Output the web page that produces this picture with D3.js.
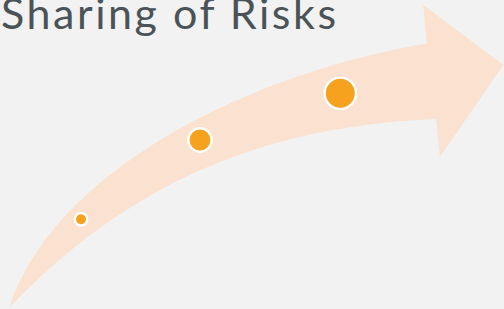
<!DOCTYPE html>
<html>
<head>
<meta charset="utf-8">
<script src="https://cdn.jsdelivr.net/npm/d3@7"></script>
<style>
  html, body { margin: 0; padding: 0; background: #f2f2f2; overflow: hidden; }
  svg { display: block; }
</style>
</head>
<body>
<svg id="chart" width="504" height="309"></svg>
<script>
// ---- data ----
const title = "Sharing of Risks";
const stages = ["Low", "Medium", "High"];
const xValues = [8.1, 20.0, 34.03];
const yValues = [8.97, 16.9, 21.57];
const sizeValues = [10, 44, 84];

// arrow outline in the same data units as the bubbles
// top edge: cubic Bézier (start, control1, control2, end)
const arrowTopX = [0.95, 5.0, 23.0, 42.67];
const arrowTopY = [0.15, 12.9, 23.1, 26.57];
// arrow head: notch, tip, lower barb, inner corner
const arrowHeadX = [42.33, 50.33, 44.0, 43.6];
const arrowHeadY = [30.4, 24.4, 15.23, 19.0];
// bottom edge: cubic Bézier (control1, control2, end)
const arrowBottomX = [30.0, 15.0, 0.95];
const arrowBottomY = [18.4, 14.9, 0.15];

const W = 504, H = 309;
const svg = d3.select("#chart");
const x = d3.scaleLinear().domain([0, 50.4]).range([0, W]);
const y = d3.scaleLinear().domain([0, 30.9]).range([H, 0]);
const r = d3.scaleSqrt().domain([0, 100]).range([0, 15.8]);

svg.append("rect").attr("width", W).attr("height", H).attr("fill", "#f2f2f2");

// arrow
const p = d3.path();
p.moveTo(x(arrowTopX[0]), y(arrowTopY[0]));
p.bezierCurveTo(x(arrowTopX[1]), y(arrowTopY[1]), x(arrowTopX[2]), y(arrowTopY[2]), x(arrowTopX[3]), y(arrowTopY[3]));
arrowHeadX.forEach((v, i) => p.lineTo(x(v), y(arrowHeadY[i])));
p.bezierCurveTo(x(arrowBottomX[0]), y(arrowBottomY[0]), x(arrowBottomX[1]), y(arrowBottomY[1]), x(arrowBottomX[2]), y(arrowBottomY[2]));
p.closePath();
svg.append("path").attr("d", p.toString()).attr("fill", "#fbe1cf");

// title
svg.append("text")
  .attr("x", 1).attr("y", 29)
  .attr("font-family", "Lato, 'Open Sans', sans-serif")
  .attr("font-size", 43)
  .attr("fill", "#4a5357")
  .attr("textLength", 335)
  .attr("lengthAdjust", "spacing")
  .text(title);

// bubbles
svg.selectAll("circle.b").data(stages).enter().append("circle")
  .attr("class", "b")
  .attr("cx", (d, i) => x(xValues[i]))
  .attr("cy", (d, i) => y(yValues[i]))
  .attr("r", (d, i) => r(sizeValues[i]) + 1.2)
  .attr("fill", "#f6a21e")
  .attr("stroke", "#ffffff")
  .attr("stroke-width", 2.4);
</script>
</body>
</html>
